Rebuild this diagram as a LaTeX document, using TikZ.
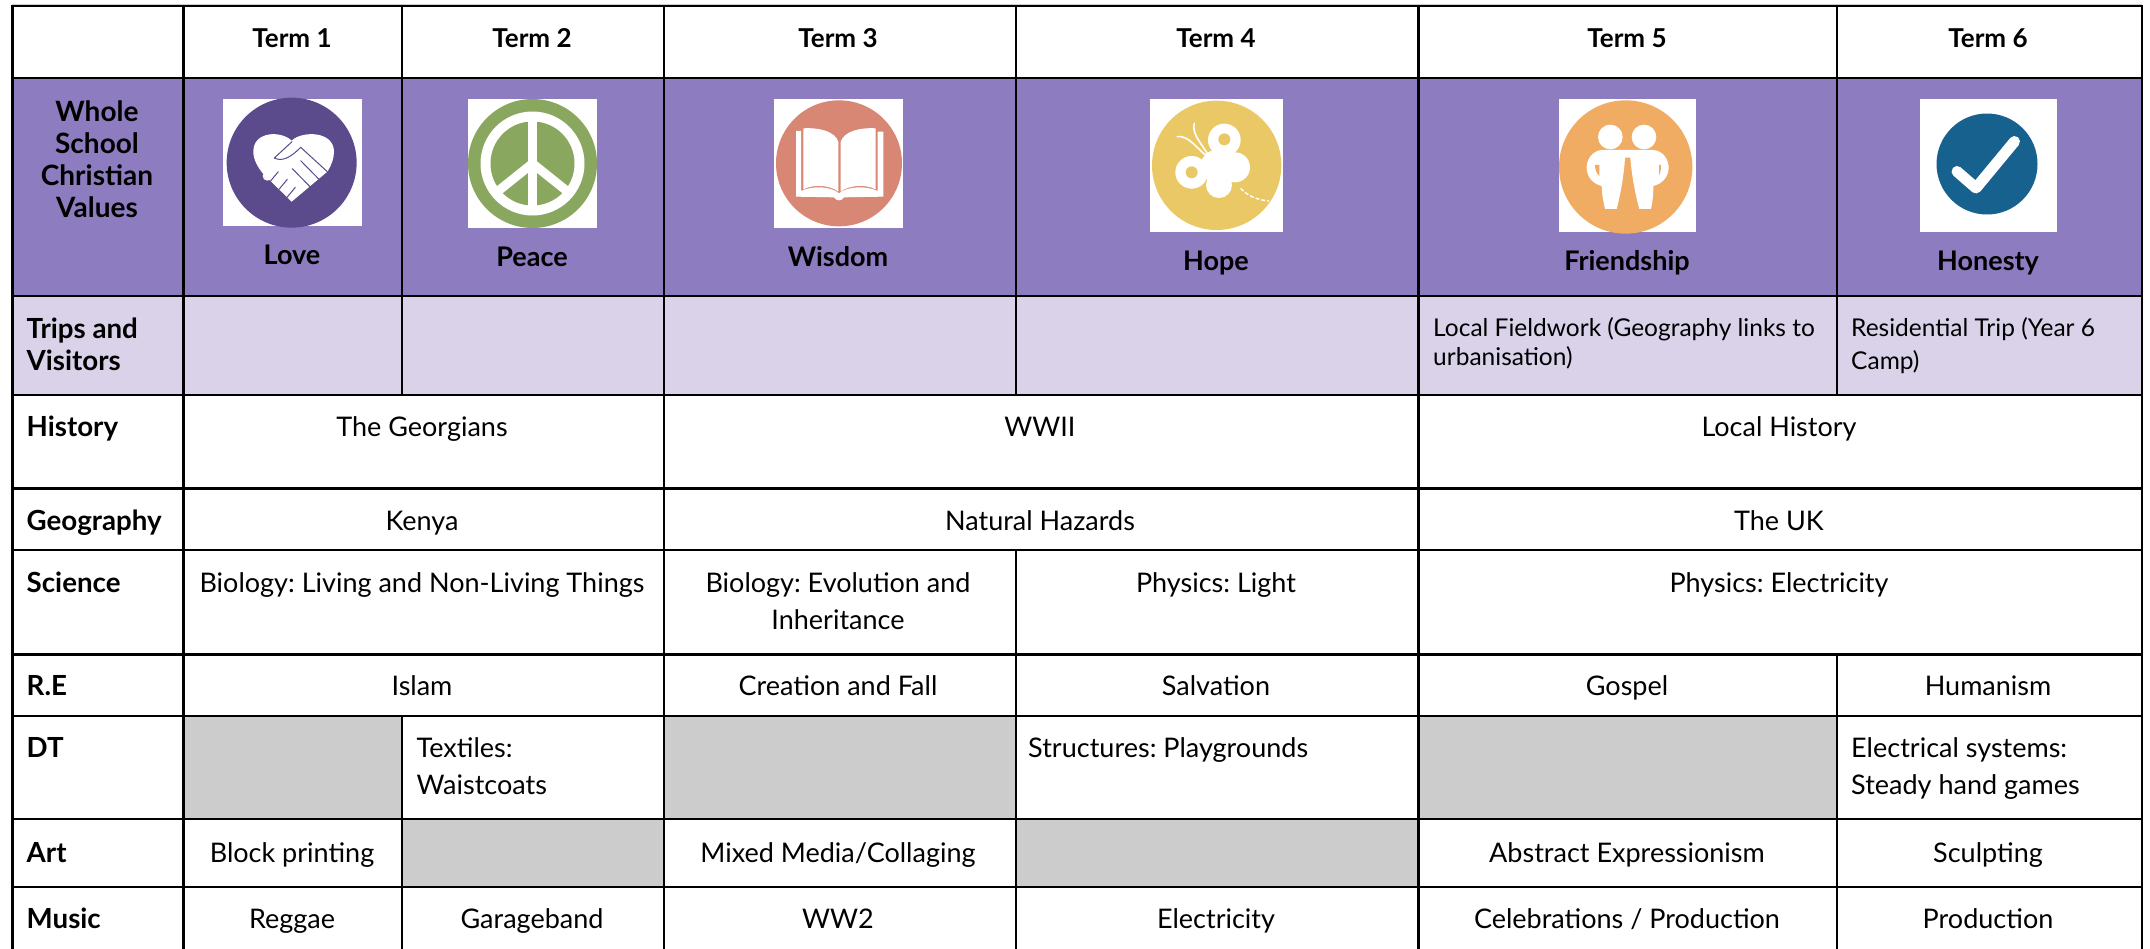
\documentclass[tikz,border=0pt]{standalone}
\usepackage{fontspec}
\setmainfont{Lato}
\frenchspacing
\definecolor{hdr}{HTML}{8D7CC0}
\definecolor{lite}{HTML}{D9D2E9}
\definecolor{greyc}{HTML}{CCCCCC}
\definecolor{cLove}{HTML}{5B4B8C}
\definecolor{cPeace}{HTML}{8AA75F}
\definecolor{cBook}{HTML}{D98775}
\definecolor{cHope}{HTML}{EBC866}
\definecolor{cFriend}{HTML}{F0AC62}
\definecolor{cHonest}{HTML}{17618F}
\tikzset{
  x=1pt,y=-1pt,
  grid/.style={line width=2.8pt,black,line cap=rect},
  hd/.style={anchor=base,inner sep=0pt,font=\fontsize{27}{32}\selectfont\bfseries,text=black},
  termhd/.style={hd,font=\fontsize{26}{32}\selectfont\bfseries},
  wholehd/.style={hd,font=\fontsize{28}{32}\selectfont\bfseries},
  hl/.style={hd,anchor=base west,font=\fontsize{27.7}{32}\selectfont\bfseries},
  tx/.style={anchor=base,inner sep=0pt,font=\fontsize{27}{32}\selectfont,text=black},
  tl/.style={tx,anchor=base west},
  trip/.style={tl,font=\fontsize{24.5}{30}\selectfont},
  iconbg/.style={fill=white},
}
\begin{document}
\begin{tikzpicture}
\useasboundingbox (0,0) rectangle (2150,948);
\fill[white] (0,0) rectangle (2150,948);
% cell fills
\fill[hdr] (12,78) rectangle (2142,296);
\fill[lite] (12,296) rectangle (2142,395);
\fill[greyc] (184,716) rectangle (402,819);
\fill[greyc] (664,716) rectangle (1016,819);
\fill[greyc] (1418,716) rectangle (1837,819);
\fill[greyc] (402,819) rectangle (664,887);
\fill[greyc] (1016,819) rectangle (1418,887);
% grid
\draw[greyc,line width=1pt] (12,4.5) -- (2142,4.5);
\foreach \y in {6,78,296,395,488.5,550,654.5,716,819,887}
  \draw[grid] (12,\y) -- (2142,\y);
\draw[grid] (12.3,6) -- (12.3,948);
\draw[grid] (183.7,6) -- (183.7,948);
\draw[grid] (664,6) -- (664,948);
\draw[grid] (1418.3,6) -- (1418.3,948);
\draw[grid] (2142,6) -- (2142,948);
\draw[grid] (402,6) -- (402,395);
\draw[grid] (402,716) -- (402,948);
\draw[grid] (1016,6) -- (1016,395);
\draw[grid] (1016,550) -- (1016,948);
\draw[grid] (1837,6) -- (1837,395);
\draw[grid] (1837,654.5) -- (1837,948);
% icon: love
\fill[iconbg] (223,99) rectangle (362,226);
\begin{scope}[shift={(210,90)},x=0.3333pt,y=-0.3333pt]
\fill[cLove] (245,218) circle[radius=195];
\fill[white] (245,152) .. controls (215,122) and (130,122) .. (130,185) .. controls (130,208) and (143,232) .. (160,252) -- (245,335) -- (352,245) .. controls (365,225) and (372,205) .. (372,185) .. controls (372,122) and (275,122) .. (245,152) -- cycle;
\fill[white] (172,258) circle[radius=14];
\draw[cLove,line width=1pt,line cap=round,line join=round] (246,155) -- (193,204) .. controls (215,215) and (240,205) .. (272,172) -- (352,245);
\draw[cLove,line width=1pt,line cap=round] (272,212) -- (327,268);
\draw[cLove,line width=1pt,line cap=round] (247,236) -- (302,292);
\draw[cLove,line width=1pt,line cap=round] (205,245) -- (180,275);
\draw[cLove,line width=1pt,line cap=round] (232,268) -- (207,298);
\draw[cLove,line width=1pt,line cap=round] (256,292) -- (231,322);
\end{scope}
% icon: peace
\fill[iconbg] (468,99) rectangle (597,228);
\fill[cPeace] (532.5,163.5) circle[radius=64.5];
\fill[white] (532.5,163.5) circle[radius=52];
\fill[cPeace] (532.5,163.5) circle[radius=42];
\begin{scope}
\clip (532.5,163.5) circle[radius=44];
\draw[white,line width=9.4pt] (532.5,110) -- (532.5,215);
\draw[white,line width=9pt] (532.5,163.5) -- (490,197.5);
\draw[white,line width=9pt] (532.5,163.5) -- (575,197.5);
\end{scope}
% icon: book
\fill[iconbg] (774,99) rectangle (903,228);
\begin{scope}[shift={(760,90)},x=0.3333pt,y=-0.3333pt]
\fill[cBook] (237,220) circle[radius=189];
\fill[white] (108,123) -- (123,123) -- (123,303) .. controls (160,285) and (215,290) .. (237,310) .. controls (260,290) and (315,285) .. (353,303) -- (353,125) -- (370,125) -- (370,320) -- (252,322) .. controls (246,334) and (228,334) .. (222,322) -- (108,320) -- cycle;
\fill[white] (130,115) .. controls (180,112) and (225,125) .. (235,155) -- (235,305) .. controls (215,288) and (165,280) .. (130,298) -- cycle;
\fill[white] (347,115) .. controls (297,112) and (252,125) .. (242,155) -- (242,305) .. controls (262,288) and (312,280) .. (347,298) -- cycle;
\end{scope}
% icon: hope
\fill[iconbg] (1150,99) rectangle (1283,232);
\begin{scope}[shift={(1140,90)},x=0.3333pt,y=-0.3333pt]
\fill[cHope] (230,226) circle[radius=194];
\fill[white] (253,150) circle[radius=49];
\fill[white] (155,247) circle[radius=49];
\fill[white] (285,232) circle[radius=45];
\fill[white] (237,285) circle[radius=39];
\fill[white] (230,228) circle[radius=48];
\fill[cHope] (253,148) circle[radius=18];
\fill[cHope] (155,247) circle[radius=18];
\draw[white,line width=1.6pt,line cap=round] (203,192) .. controls (180,155) and (155,130) .. (163,100);
\draw[white,line width=1.6pt,line cap=round] (200,198) .. controls (170,175) and (145,135) .. (112,140);
\draw[white,line width=1.4pt,dash pattern=on 4pt off 2pt] (302,295) .. controls (325,320) and (355,330) .. (387,333);
\end{scope}
% icon: friendship
\fill[iconbg] (1559,99) rectangle (1696,232);
\begin{scope}[shift={(1550,90)},x=0.3333pt,y=-0.3333pt]
\fill[cFriend] (227,231) circle[radius=200];
\fill[white] (181,141) circle[radius=37];
\fill[white] (282,141) circle[radius=37];
\fill[white] (155,180) -- (310,180) .. controls (340,182) and (357,210) .. (356,235) .. controls (355,262) and (335,282) .. (310,288) .. controls (310,315) and (308,335) .. (303,357) -- (268,357) .. controls (255,310) and (245,255) .. (241,203) -- (225,203) .. controls (222,255) and (212,310) .. (200,357) -- (165,357) .. controls (160,335) and (156,315) .. (155,288) .. controls (130,282) and (110,262) .. (110,232) .. controls (110,205) and (130,182) .. (155,180) -- cycle;
\fill[cFriend] (135,225) -- (148,225) -- (148,258) .. controls (140,250) and (135,240) .. (135,225) -- cycle;
\fill[cFriend] (327,225) -- (333,225) .. controls (333,240) and (331,250) .. (327,258) -- cycle;
\end{scope}
% icon: honesty
\fill[iconbg] (1920,99) rectangle (2057,232);
\fill[cHonest] (1987,164) circle[radius=50.5];
\draw[white,line width=11pt,line cap=round,line join=round] (1957,171.5) -- (1976,188) -- (2014.5,141.5);
% header row
\node[termhd] (t1) at (292,47.5) {Term 1};
\node[termhd] (t2) at (532,47.5) {Term 2};
\node[termhd] (t3) at (838,47.5) {Term 3};
\node[termhd] (t4) at (1216,47.5) {Term 4};
\node[termhd] (t5) at (1627,47.5) {Term 5};
\node[termhd] (t6) at (1988,47.5) {Term 6};
% values
\node[wholehd] (w1) at (97,121) {Whole};
\node[wholehd] (w2) at (97,153) {School};
\node[wholehd] (w3) at (97,185) {Christian};
\node[wholehd] (w4) at (97,217) {Values};
\node[hd] (v1) at (292,264.5) {Love};
\node[hd] (v2) at (532,266.5) {Peace};
\node[hd] (v3) at (838,266.5) {Wisdom};
\node[hd] (v4) at (1216,270) {Hope};
\node[hd] (v5) at (1627,270) {Friendship};
\node[hd] (v6) at (1988,270) {Honesty};
% row heads
\node[hl] (r1a) at (26.5,338) {Trips and};
\node[hl] (r1b) at (26.5,370) {Visitors};
\node[hl] (r2) at (26.5,436) {History};
\node[hl] (r3) at (26.5,530) {Geography};
\node[hl] (r4) at (26.5,592) {Science};
\node[hl] (r5) at (26.5,695.5) {R.E};
\node[hl] (r6) at (26.5,757.5) {DT};
\node[hl] (r7) at (26.5,862) {Art};
\node[hl] (r8) at (26.5,928.5) {Music};
% trips
\node[trip] (a1) at (1433,336) {Local Fieldwork (Geography links to};
\node[trip] (a2) at (1433,365) {urbanisation)};
\node[trip] (a3) at (1851,336) {Residential Trip (Year 6};
\node[trip] (a4) at (1851,369) {Camp)};
% history
\node[tx] (h1) at (422,436) {The Georgians};
\node[tx] (h2) at (1040,436) {WWII};
\node[tx] (h3) at (1779,436) {Local History};
% geography
\node[tx] (g1) at (422,530.5) {Kenya};
\node[tx] (g2) at (1040,530.5) {Natural Hazards};
\node[tx] (g3) at (1779,530.5) {The UK};
% science
\node[tx] (s1) at (422,592) {Biology: Living and Non-Living Things};
\node[tx] (s2a) at (838,592) {Biology: Evolution and};
\node[tx] (s2b) at (838,629) {Inheritance};
\node[tx] (s3) at (1216,592) {Physics: Light};
\node[tx] (s4) at (1779,592) {Physics: Electricity};
% RE
\node[tx] (e1) at (422,695.5) {Islam};
\node[tx] (e2) at (838,695.5) {Creation and Fall};
\node[tx] (e3) at (1216,695.5) {Salvation};
\node[tx] (e4) at (1627,695.5) {Gospel};
\node[tx] (e5) at (1988,695.5) {Humanism};
% DT
\node[tl] (d1a) at (416.5,757.5) {Textiles:};
\node[tl] (d1b) at (416.5,794.5) {Waistcoats};
\node[tl] (d2) at (1028,757.5) {Structures: Playgrounds};
\node[tl] (d3a) at (1851,757.5) {Electrical systems:};
\node[tl] (d3b) at (1851,794.5) {Steady hand games};
% art
\node[tx] (p1) at (292,862.5) {Block printing};
\node[tx] (p2) at (838,862.5) {Mixed Media/Collaging};
\node[tx] (p3) at (1627,862.5) {Abstract Expressionism};
\node[tx] (p4) at (1988,862.5) {Sculpting};
% music
\node[tx] (m1) at (292,928.5) {Reggae};
\node[tx] (m2) at (532,928.5) {Garageband};
\node[tx] (m3) at (838,928.5) {WW2};
\node[tx] (m4) at (1216,928.5) {Electricity};
\node[tx] (m5) at (1627,928.5) {Celebrations / Production};
\node[tx] (m6) at (1988,928.5) {Production};
\end{tikzpicture}
\end{document}
